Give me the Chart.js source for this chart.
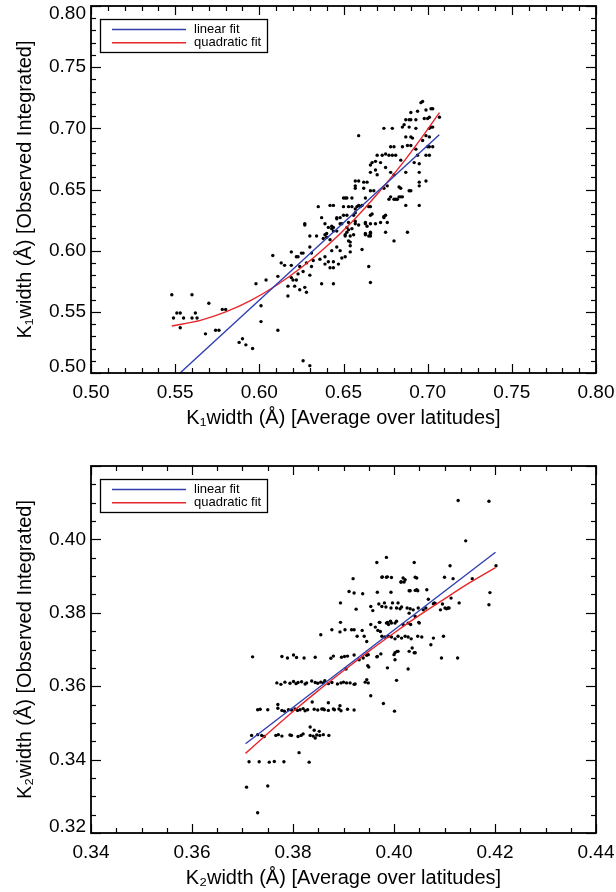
<!DOCTYPE html>
<html><head><meta charset="utf-8">
<script src="https://cdn.jsdelivr.net/npm/chart.js@4.4.1/dist/chart.umd.min.js"></script>
<style>html,body{margin:0;padding:0;background:#fff;}canvas{display:block;}</style>
</head><body>
<canvas id="c1" width="616" height="446"></canvas>
<canvas id="c2" width="616" height="446"></canvas>
<script>
// ---------- Panel 1 : K1 width ----------
const k1X = [
0.548,0.549,0.551,0.553,0.553,0.555,0.560,0.560,0.562,0.563,0.568,0.570,0.574,0.576,0.578,0.580,0.588,0.590,0.592,0.596,
0.598,0.601,0.601,0.604,0.608,0.611,0.626,0.627,0.630,
0.611,0.613,0.615,0.617,0.617,0.619,0.619,0.619,0.620,0.622,0.621,0.622,0.623,0.623,0.624,0.625,0.626,0.624,0.626,0.627,
0.628,0.628,0.630,0.630,0.630,0.631,0.632,0.634,0.636,0.637,0.638,0.640,0.639,0.639,0.641,0.642,0.644,0.642,0.644,0.644,
0.643,0.646,0.647,0.648,0.649,0.651,0.651,0.652,0.653,0.654,0.654,0.656,0.661,0.663,0.666,0.665,0.666,0.675,0.680,0.688,
0.627,0.631,0.635,0.637,0.639,0.642,0.644,0.643,0.644,0.640,0.646,0.648,0.646,0.648,0.650,0.651,0.650,0.652,0.650,0.653,
0.655,0.651,0.652,0.653,0.654,0.654,0.656,0.657,0.657,0.658,0.660,0.663,0.664,0.663,0.666,0.665,0.665,0.666,0.666,0.668,
0.669,0.674,0.676,0.677,0.680,0.682,0.683,0.685,0.687,0.695,
0.646,0.652,0.655,0.657,0.659,0.661,0.657,0.659,0.662,0.664,0.657,0.657,0.662,0.663,0.666,0.667,0.659,0.666,0.669,0.667,
0.669,0.672,0.666,0.670,0.673,0.675,0.677,0.679,0.670,0.675,0.678,0.674,0.676,0.680,0.681,0.684,0.678,0.680,0.683,0.684,
0.678,0.681,0.684,0.685,0.688,0.690,0.687,0.689,0.690,0.693,0.694,0.695,0.695,0.695,0.695,0.674,0.679,0.685,0.689,0.687,
0.689,0.690,0.686,0.693,0.687,0.690,0.691,0.690,0.694,0.693,0.696,0.698,0.697,
0.697,0.699,0.702,0.703,0.700,0.701,0.707,0.701,0.702,0.703,0.699,0.701,0.700,0.701,0.703,0.699,0.701,0.699,0.692,
0.639,0.641,0.643,0.644,0.649,0.653,0.655,0.657,0.659,0.663,0.666,0.666,0.672,0.675,0.674
];
const k1Y = [
0.564,0.545,0.549,0.549,0.537,0.545,0.564,0.545,0.549,0.545,0.532,0.557,0.535,0.535,0.552,0.552,0.525,0.528,0.523,0.520,
0.573,0.555,0.542,0.576,0.596,0.535,0.510,0.622,0.506,
0.579,0.590,0.588,0.563,0.571,0.599,0.588,0.578,0.576,0.576,0.571,0.595,0.595,0.581,0.587,0.598,0.598,0.568,0.583,0.570,
0.566,0.590,0.580,0.612,0.603,0.587,0.592,0.612,0.593,0.573,0.610,0.611,0.595,0.589,0.591,0.586,0.586,0.609,0.573,0.591,
0.600,0.603,0.589,0.600,0.594,0.595,0.612,0.615,0.608,0.604,0.599,0.613,0.601,0.613,0.612,0.587,0.574,0.615,0.608,0.615,
0.621,0.598,0.636,0.627,0.622,0.637,0.637,0.620,0.619,0.614,0.627,0.627,0.616,0.622,0.643,0.643,0.629,0.629,0.636,0.636,
0.636,0.613,0.619,0.617,0.612,0.607,0.629,0.631,0.624,0.636,0.636,0.622,0.620,0.614,0.614,0.612,0.636,0.636,0.629,0.649,
0.622,0.628,0.623,0.642,0.642,0.642,0.644,0.644,0.637,0.637,
0.626,0.643,0.643,0.634,0.637,0.637,0.657,0.657,0.656,0.656,0.653,0.651,0.651,0.643,0.649,0.630,0.694,0.664,0.666,0.672,
0.673,0.672,0.670,0.678,0.678,0.679,0.678,0.678,0.662,0.668,0.664,0.651,0.653,0.662,0.678,0.674,0.685,0.685,0.652,0.651,
0.644,0.642,0.644,0.685,0.686,0.686,0.664,0.649,0.649,0.683,0.678,0.664,0.671,0.656,0.653,0.700,0.700,0.701,0.701,0.707,
0.707,0.707,0.703,0.700,0.693,0.693,0.692,0.713,0.714,0.707,0.721,0.708,0.690,
0.722,0.715,0.716,0.716,0.708,0.709,0.709,0.700,0.701,0.701,0.694,0.693,0.685,0.685,0.685,0.678,0.678,0.657,0.672,
0.613,0.619,0.618,0.616,0.622,0.623,0.618,0.622,0.621,0.623,0.622,0.615,0.623,0.629,0.627
];
const k1LinX = [0.5529, 0.7069];
const k1LinY = [0.5000, 0.6948];
const k1QuadX = [0.548,0.565,0.580,0.595,0.610,0.625,0.640,0.655,0.670,0.685,0.700,0.707];
const k1QuadY = [0.5384,0.5430,0.5499,0.5594,0.5715,0.5862,0.6036,0.6235,0.6461,0.6713,0.6991,0.7129];

// ---------- Panel 2 : K2 width ----------
const k2X = [
0.4127,0.4188,0.4142,0.4202,0.4155,0.4190,0.4188,0.4129,0.4117,0.4111,0.4100,0.4113,0.4096,0.4101,0.4107,0.4080,0.4068,0.4065,0.4063,0.4058,
0.4045,0.4047,0.4042,0.4045,0.4040,0.4032,0.4022,0.4020,0.4018,0.4014,0.3994,0.3995,0.3985,0.3966,0.3976,0.3985,0.3967,0.3938,0.3919,0.3911,
0.3921,0.3894,0.3925,0.3954,0.3958,0.3970,0.3976,0.3981,0.3984,0.3994,0.3997,0.4005,0.4008,0.4012,0.4015,0.4026,0.4032,0.4038,0.4048,
0.3855,0.3877,0.3893,0.3903,0.3916,0.3921,0.3927,0.3937,0.3941,0.3946,0.3968,0.3971,0.3976,0.3982,0.3985,0.3989,0.3995,0.4002,0.4005,
0.3989,0.3995,0.4002,0.4008,0.4015,0.4022,0.4028,0.4034,0.4018,0.4028,0.4033,0.4050,0.4047,0.4055,0.4078,0.4098,0.4036,0.4073,
0.3977,0.3987,0.4014,0.4030,0.4042,0.4078,0.4082,0.4092,0.4104,0.4109,0.3894,0.3954,0.3963,0.3972,0.3973,0.3987,0.3993,0.4030,0.4042,0.4049,
0.4002,0.4008,0.4040,0.3967,
0.3720,0.3778,0.3789,0.3801,0.3807,0.3822,0.3844,0.3875,0.3880,0.3896,0.3902,0.3908,0.3921,0.3931,0.3939,0.3946,0.3949,0.3966,0.3974,
0.4030,0.4042,0.4006,0.4000,0.4002,0.4094,0.4126,0.4028,0.3987,0.3905,0.3948,0.3950,0.4005,0.3954,0.3979,0.4001,
0.3768,0.3776,0.3784,0.3794,0.3801,0.3806,0.3810,0.3817,0.3824,0.3827,0.3837,0.3844,0.3849,0.3855,0.3860,0.3863,0.3870,0.3877,0.3888,0.3895,
0.3900,0.3913,0.3921,0.3946,0.3949,0.3906,0.3923,0.3943,
0.3730,0.3735,0.3750,0.3770,0.3778,0.3783,0.3791,0.3797,0.3804,0.3809,0.3814,0.3820,0.3824,0.3829,0.3842,0.3849,0.3857,0.3862,0.3870,0.3882,
0.3891,0.3895,0.3908,0.3921,0.3770,0.3838,0.3870,0.3893,0.3860,0.3880,
0.3718,0.3730,0.3738,0.3743,0.3766,0.3771,0.3778,0.3794,0.3797,0.3810,0.3816,0.3820,0.3834,0.3840,0.3847,0.3853,0.3860,0.3871,
0.3834,0.3842,0.3852,0.3844,0.3812,
0.3713,0.3733,0.3753,0.3763,0.3782,0.3832,0.3708,0.3750,0.3730
];
const k2Y = [
0.4106,0.4104,0.3996,0.3928,0.3893,0.3855,0.3822,0.3827,0.3893,0.3928,0.3897,0.3840,0.3824,0.3813,0.3813,0.3827,0.3837,0.3863,0.3813,0.3808,
0.3863,0.3860,0.3897,0.3895,0.3937,0.3860,0.3890,0.3884,0.3895,0.3885,0.3856,0.3896,0.3951,0.3937,0.3897,0.3897,0.3856,0.3852,0.3893,0.3858,
0.3854,0.3827,0.3810,0.3817,0.3806,0.3824,0.3817,0.3827,0.3816,0.3813,0.3827,0.3813,0.3827,0.3811,0.3816,0.3813,0.3811,0.3808,0.3813,
0.3740,0.3754,0.3748,0.3754,0.3754,0.3754,0.3736,0.3752,0.3736,0.3722,0.3752,0.3774,0.3736,0.3734,0.3772,0.3768,0.3772,0.3772,0.3777,
0.3736,0.3734,0.3729,0.3736,0.3731,0.3736,0.3734,0.3729,0.3768,0.3772,0.3768,0.3772,0.3736,0.3734,0.3731,0.3736,0.3704,0.3713,
0.3898,0.3898,0.3883,0.3860,0.3861,0.3825,0.3825,0.3808,0.3811,0.3813,0.3774,0.3768,0.3761,0.3774,0.3749,0.3774,0.3777,0.3799,0.3790,0.3774,
0.3691,0.3695,0.3691,0.3681,
0.3680,0.3681,0.3677,0.3685,0.3678,0.3677,0.3679,0.3676,0.3682,0.3679,0.3681,0.3682,0.3685,0.3672,0.3677,0.3684,0.3686,0.3680,0.3688,
0.3695,0.3691,0.3695,0.3686,0.3672,0.3677,0.3677,0.3647,0.3650,0.3647,0.3656,0.3652,0.3616,0.3574,0.3553,0.3532,
0.3609,0.3605,0.3611,0.3608,0.3613,0.3607,0.3610,0.3612,0.3606,0.3609,0.3614,0.3610,0.3608,0.3611,0.3609,0.3615,0.3607,0.3610,0.3606,0.3609,
0.3611,0.3609,0.3605,0.3618,0.3609,0.3609,0.3606,0.3611,
0.3536,0.3537,0.3536,0.3540,0.3534,0.3532,0.3536,0.3535,0.3538,0.3534,0.3536,0.3539,0.3533,0.3536,0.3537,0.3535,0.3538,0.3536,0.3534,0.3536,
0.3538,0.3533,0.3537,0.3535,0.3550,0.3557,0.3555,0.3547,0.3538,0.3538,
0.3466,0.3468,0.3466,0.3463,0.3466,0.3468,0.3464,0.3467,0.3466,0.3463,0.3466,0.3470,0.3466,0.3464,0.3467,0.3466,0.3468,0.3466,
0.3489,0.3480,0.3477,0.3459,0.3419,
0.3394,0.3394,0.3393,0.3395,0.3394,0.3393,0.3325,0.3328,0.3255
];
const k2LinX = [0.3706, 0.4201];
const k2LinY = [0.3443, 0.3965];
const k2QuadX = [0.3706,0.375,0.380,0.385,0.390,0.395,0.400,0.405,0.410,0.415,0.4201];
const k2QuadY = [0.3417,0.3471,0.3531,0.3588,0.3642,0.3695,0.3745,0.3793,0.3838,0.3882,0.3923];

const legendLabels = ['linear fit', 'quadratic fit'];
const BLUE = '#2f3fb0', RED = '#e8262a';

Chart.defaults.font.family = "'Liberation Sans', Arial, Helvetica, sans-serif";
Chart.defaults.color = '#000';

const zip = (xs, ys) => xs.map((x, i) => ({x, y: ys[i]}));

const framePlugin = {
  id: 'frameTicks',
  afterDraw(chart, args, opts) {
    const {ctx, chartArea: a, scales: {x, y}} = chart;
    ctx.save();
    ctx.strokeStyle = '#000';
    ctx.lineWidth = 1.2;
    const seg = (x1, y1, x2, y2) => { ctx.beginPath(); ctx.moveTo(x1, y1); ctx.lineTo(x2, y2); ctx.stroke(); };
    const majX = x.ticks.map(t => t.value), majY = y.ticks.map(t => t.value);
    const isMaj = (arr, v) => arr.some(m => Math.abs(m - v) < 1e-7);
    for (let i = 0; ; i++) {
      const v = x.min + i * opts.xMinor;
      if (v > x.max + 1e-7) break;
      const p = Math.round(x.getPixelForValue(v)) + 0.5;
      const L = isMaj(majX, v) ? 9 : 5;
      seg(p, a.bottom, p, a.bottom - L); seg(p, a.top, p, a.top + L);
    }
    for (let i = 0; ; i++) {
      const v = y.min + i * opts.yMinor;
      if (v > y.max + 1e-7) break;
      const p = Math.round(y.getPixelForValue(v)) + 0.5;
      const L = isMaj(majY, v) ? 10 : 5;
      seg(a.left, p, a.left + L, p); seg(a.right, p, a.right - L, p);
    }
    ctx.lineWidth = 1.8;
    ctx.strokeRect(a.left, a.top, a.right - a.left, a.bottom - a.top);
    // legend box
    const bx = a.left + 9, by = a.top + 13;
    ctx.fillStyle = '#fff';
    ctx.fillRect(bx, by, 167, 33);
    ctx.lineWidth = 1.3;
    ctx.strokeRect(bx + 0.5, by + 0.5, 167, 33);
    const cols = [BLUE, RED];
    ctx.font = "13px 'Liberation Sans', Arial, sans-serif";
    ctx.textBaseline = 'middle';
    ctx.textAlign = 'left';
    legendLabels.forEach((lab, i) => {
      const ly = a.top + 23.5 + i * 13.3;
      ctx.strokeStyle = cols[i];
      ctx.lineWidth = 1.4;
      seg(a.left + 21, ly, a.left + 95, ly);
      ctx.fillStyle = '#000';
      ctx.fillText(lab, a.left + 103, ly - 0.5);
    });
    ctx.restore();
  }
};

function makeChart(id, cfg) {
  const yTickFont = (c) => {
    const ticks = (c && c.scale && c.scale.ticks) ? c.scale.ticks : null;
    let lh = 1.2;
    if (ticks && typeof c.index === 'number') {
      const n = ticks.length;
      if (c.index === n - 1) lh = 0.8;
      if (c.index === 0) lh = 0.67;
    }
    return {size: 19, lineHeight: lh};
  };
  return new Chart(document.getElementById(id), {
    type: 'scatter',
    data: {
      datasets: [
        {label: legendLabels[0], data: zip(cfg.linX, cfg.linY), showLine: true, borderColor: BLUE, borderWidth: 1.4, pointRadius: 0, fill: false, order: 0},
        {label: legendLabels[1], data: zip(cfg.quadX, cfg.quadY), showLine: true, borderColor: RED, borderWidth: 1.4, pointRadius: 0, fill: false, tension: 0.4, cubicInterpolationMode: 'monotone', order: 0},
        {label: 'data', data: zip(cfg.px, cfg.py), pointRadius: 1.7, pointBackgroundColor: '#000', pointBorderWidth: 0, borderColor: '#000', order: 1}
      ]
    },
    options: {
      responsive: false, animation: false, devicePixelRatio: 1,
      layout: {padding: {top: cfg.padTop, right: 20, left: 0, bottom: 0}},
      plugins: {legend: {display: false}, tooltip: {enabled: false}, frameTicks: {xMinor: cfg.xMinor, yMinor: cfg.yMinor}},
      scales: {
        x: {
          type: 'linear', min: cfg.xMin, max: cfg.xMax,
          grid: {display: false, drawTicks: false}, border: {display: false},
          ticks: {stepSize: cfg.xStep, padding: 8, font: {size: 19}, color: '#000', maxRotation: 0,
                  callback: (v) => Number(v).toFixed(2)},
          title: {display: true, text: cfg.xTitle, font: {size: 20}, color: '#000', padding: {top: 0, bottom: cfg.xTitlePad}},
          afterFit: (s) => { s.height = cfg.xAxisH; s.paddingLeft = 0; s.paddingRight = 0; }
        },
        y: {
          type: 'linear', min: cfg.yMin, max: cfg.yMax,
          grid: {display: false, drawTicks: false}, border: {display: false},
          ticks: {stepSize: cfg.yStep, padding: 5, font: yTickFont, color: '#000',
                  callback: (v, i, t) => {
                    const n = t ? t.length : 0;
                    if (cfg.hideTop && i === n - 1) return '';
                    const s = Number(v).toFixed(2);
                    if (i === n - 1) return ['', s];
                    if (i === 0) return [s, ''];
                    return s;
                  }},
          title: {display: true, text: cfg.yTitle, font: {size: 20}, color: '#000', padding: {top: 13, bottom: 0}},
          afterFit: (s) => { s.width = 91; s.paddingTop = 0; s.paddingBottom = 0; }
        }
      }
    },
    plugins: [framePlugin]
  });
}

makeChart('c1', {
  px: k1X, py: k1Y, linX: k1LinX, linY: k1LinY, quadX: k1QuadX, quadY: k1QuadY,
  xMin: 0.50, xMax: 0.80, xStep: 0.05, xMinor: 0.01,
  yMin: 0.50, yMax: 0.80, yStep: 0.05, yMinor: 0.01,
  padTop: 6, xAxisH: 73, xTitlePad: 16, hideTop: false,
  xTitle: 'K\u2081width (\u00C5) [Average over latitudes]',
  yTitle: 'K\u2081width (\u00C5) [Observed Integrated]'
});
makeChart('c2', {
  px: k2X, py: k2Y, linX: k2LinX, linY: k2LinY, quadX: k2QuadX, quadY: k2QuadY,
  xMin: 0.34, xMax: 0.44, xStep: 0.02, xMinor: 0.005,
  yMin: 0.32, yMax: 0.42, yStep: 0.02, yMinor: 0.005,
  padTop: 20, xAxisH: 59, xTitlePad: 2, hideTop: true,
  xTitle: 'K\u2082width (\u00C5) [Average over latitudes]',
  yTitle: 'K\u2082width (\u00C5) [Observed Integrated]'
});
</script>
</body></html>
